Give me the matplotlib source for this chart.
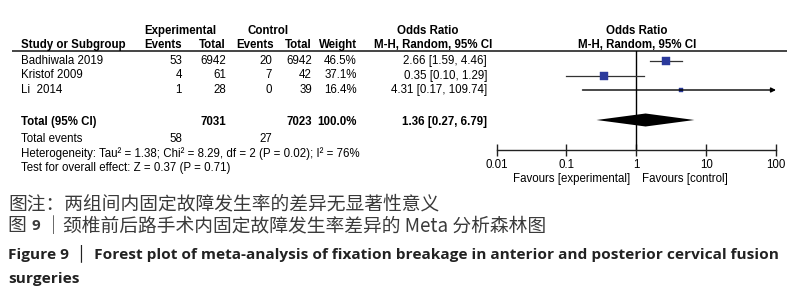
import numpy as np
import matplotlib
matplotlib.use("Agg")
import matplotlib.pyplot as plt
from matplotlib.ticker import FixedLocator, FixedFormatter, NullLocator

# study data
studies = ["Badhiwala 2019", "Kristof 2009", "Li  2014"]
exp_events = [53, 4, 1]
exp_total = [6942, 61, 28]
ctrl_events = [20, 7, 0]
ctrl_total = [6942, 42, 39]
weights = [46.5, 37.1, 16.4]
odds = [2.66, 0.35, 4.31]
ci_low = [1.59, 0.10, 0.17]
ci_high = [4.46, 1.29, 109.74]

# pooled result
total_exp, total_ctrl = 7031, 7023
total_exp_events, total_ctrl_events = 58, 27
pooled_or, pooled_lo, pooled_hi = 1.36, 0.27, 6.79
heterogeneity = "Heterogeneity: Tau² = 1.38; Chi² = 8.29, df = 2 (P = 0.02); I² = 76%"
overall = "Test for overall effect: Z = 0.37 (P = 0.71)"

axis_ticks = [0.01, 0.1, 1, 10, 100]
axis_labels = ["0.01", "0.1", "1", "10", "100"]

note_cn = "图注：两组间内固定故障发生率的差异无显著性意义"
title_cn = ["图 ", "9", " │颈椎前后路手术内固定故障发生率差异的 Meta 分析森林图"]
title_en = "Figure 9  │  Forest plot of meta-analysis of fixation breakage in anterior and posterior cervical fusion"
title_en2 = "surgeries"

W, H = 796, 295
fig = plt.figure(figsize=(W / 100, H / 100), dpi=100)

# overlay axes in pixel units for the table text
ov = fig.add_axes([0, 0, 1, 1])
ov.set_xlim(0, W)
ov.set_ylim(H, 0)
ov.axis("off")

FS = 8.3
tf = dict(family=["Liberation Sans", "DejaVu Sans"], fontsize=FS, va="center")
bf = dict(tf, weight="bold")

# headers
ov.text(180, 31, "Experimental", ha="center", **bf)
ov.text(268, 31, "Control", ha="center", **bf)
ov.text(428, 31, "Odds Ratio", ha="center", **bf)
ov.text(637, 31, "Odds Ratio", ha="center", **bf)
ov.text(21, 45, "Study or Subgroup", ha="left", **bf)
ov.text(182, 45, "Events", ha="right", **bf)
ov.text(226, 45, "Total", ha="right", **bf)
ov.text(274, 45, "Events", ha="right", **bf)
ov.text(312, 45, "Total", ha="right", **bf)
ov.text(357, 45, "Weight", ha="right", **bf)
ov.text(492, 45, "M-H, Random, 95% CI", ha="right", **bf)
ov.text(637, 45, "M-H, Random, 95% CI", ha="center", **bf)
ov.plot([12, 787], [51, 51], color="#444444", lw=1.4, solid_capstyle="butt")

row_y = [61, 75.5, 90]
for i, y in enumerate(row_y):
    ov.text(21, y, studies[i], ha="left", **tf)
    ov.text(182, y, str(exp_events[i]), ha="right", **tf)
    ov.text(226, y, str(exp_total[i]), ha="right", **tf)
    ov.text(272, y, str(ctrl_events[i]), ha="right", **tf)
    ov.text(312, y, str(ctrl_total[i]), ha="right", **tf)
    ov.text(357, y, f"{weights[i]:.1f}%", ha="right", **tf)
    ov.text(487, y, f"{odds[i]:.2f} [{ci_low[i]:.2f}, {ci_high[i]:.2f}]", ha="right", **tf)

ty = 122
ov.text(21, ty, "Total (95% CI)", ha="left", **bf)
ov.text(226, ty, str(total_exp), ha="right", **bf)
ov.text(312, ty, str(total_ctrl), ha="right", **bf)
ov.text(357, ty, "100.0%", ha="right", **bf)
ov.text(487, ty, f"{pooled_or:.2f} [{pooled_lo:.2f}, {pooled_hi:.2f}]", ha="right", **bf)
ov.text(21, 139, "Total events", ha="left", **tf)
ov.text(182, 139, str(total_exp_events), ha="right", **tf)
ov.text(272, 139, str(total_ctrl_events), ha="right", **tf)
ov.text(21, 153.5, heterogeneity, ha="left", **tf)
ov.text(21, 168, overall, ha="left", **tf)

ov.text(630, 179, "Favours [experimental]", ha="right", **tf)
ov.text(642, 179, "Favours [control]", ha="left", **tf)

# forest plot axes: x in log odds ratio, y in pixel rows
x0, x1, ytop, ybot = 496.5, 776, 51, 150.5
fa = fig.add_axes([x0 / W, 1 - ybot / H, (x1 - x0) / W, (ybot - ytop) / H])
fa.set_xscale("log")
fa.set_xlim(axis_ticks[0], axis_ticks[-1])
fa.set_ylim(ybot, ytop)
fa.patch.set_alpha(0)
for s in ["top", "left", "right"]:
    fa.spines[s].set_visible(False)
fa.spines["bottom"].set_linewidth(1.0)
fa.spines["bottom"].set_color("#222222")
fa.yaxis.set_visible(False)
fa.xaxis.set_major_locator(FixedLocator(axis_ticks))
fa.xaxis.set_major_formatter(FixedFormatter(axis_labels))
fa.xaxis.set_minor_locator(NullLocator())
fa.tick_params(axis="x", direction="inout", length=8, width=1.0, color="#222222", pad=2,
               labelsize=FS)
for lab in fa.get_xticklabels():
    lab.set_family(["Liberation Sans", "DejaVu Sans"])

fa.axvline(1, color="black", lw=1.0)

xmax = axis_ticks[-1]
for i, y in enumerate(row_y):
    hi = min(ci_high[i], xmax)
    if ci_high[i] > xmax:
        fa.annotate("", xy=(hi, y), xytext=(ci_low[i], y),
                    arrowprops=dict(arrowstyle="-|>", color="black", lw=1.0,
                                    mutation_scale=7, shrinkA=0, shrinkB=0))
    else:
        fa.plot([ci_low[i], hi], [y, y], color="#333333", lw=0.9)
    ms = 5.8 * np.sqrt(weights[i] / 46.5)
    fa.plot(odds[i], y, marker="s", ms=ms, color="#2b3a9c", mec="#2b3a9c", mew=0.3)

dy = 120
fa.fill([pooled_lo, pooled_or, pooled_hi, pooled_or], [dy, dy - 6.5, dy, dy + 6.5],
        color="black", lw=0)

# captions
cn = dict(family=["Noto Sans CJK SC", "DejaVu Sans"], fontsize=13.5, color="#3a3a3a", va="center")
ov.text(8, 204, note_cn, ha="left", **cn)
t1 = ov.text(8, 226, title_cn[0], ha="left", **cn)
t2 = ov.annotate(title_cn[1], xy=(1, 0.5), xycoords=t1, ha="left",
                 **dict(cn, family=["Open Sans", "DejaVu Sans"], weight="bold", fontsize=11))
ov.annotate(title_cn[2], xy=(1, 0.5), xycoords=t2, ha="left", **cn)
en = dict(family=["Open Sans", "DejaVu Sans"], fontsize=11.1, weight="bold", color="#222222", va="center")
ov.text(8, 253, title_en, ha="left", **en)
ov.text(8, 279, title_en2, ha="left", **en)

fig.savefig("out.png", dpi=100)
